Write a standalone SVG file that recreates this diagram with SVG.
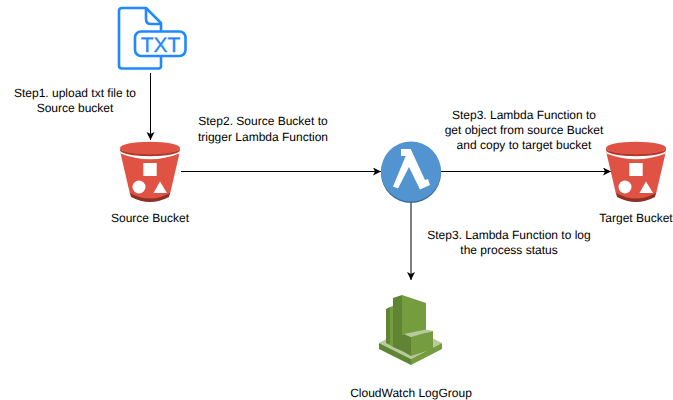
<svg xmlns="http://www.w3.org/2000/svg" width="673" height="400" viewBox="0 0 673 400">
<style>
text{font-family:"Liberation Sans",Arial,sans-serif;font-size:12px;fill:#000;text-anchor:middle;text-rendering:geometricPrecision}
.c{fill:none;stroke:#000;stroke-width:1}
.doc{fill:none;stroke:#2188ff;stroke-width:2.6;stroke-linejoin:round}
</style>
<defs>
<marker id="a" markerWidth="9" markerHeight="9" refX="8" refY="4" orient="auto" markerUnits="userSpaceOnUse"><path d="M0 0L8 4L0 8L2 4Z" fill="#000"/></marker>
<g id="bucket">
<path d="M-30 9L-20 52Q0 64 20 52L30 9Z" fill="#e05243"/>
<path d="M-20 51Q0 62 20 51L19 55Q0 65 -19 55Z" fill="#8c3123"/>
<path d="M-30 8Q0 20 30 8L29.500 11.500Q0 23 -29.500 11.500Z" fill="#fff"/>
<path d="M-30 6A30 6.300 0 0 0 30 6L30 8A30 6.300 0 0 1 -30 8Z" fill="#a93a2c"/>
<ellipse cx="0" cy="6" rx="30" ry="6.300" fill="#e05243"/>
<rect x="-6.700" y="21" width="13.400" height="13" fill="#fff"/>
<circle cx="-11" cy="45" r="6.500" fill="#fff"/>
<path d="M10 39.500L17 51H3.500Z" fill="#fff"/>
</g>
</defs>
<g id="connectors">
<path class="c" d="M150.500 73V140" marker-end="url(#a)"/>
<path class="c" d="M181 171.500H381" marker-end="url(#a)"/>
<path class="c" d="M441 171.500H611" marker-end="url(#a)"/>
<path class="c" d="M411 203V280" marker-end="url(#a)"/>
</g>
<g id="txt-file">
<path class="doc" d="M161 57V66Q161 68.500 158.500 68.500H122Q119 68.500 119 65.500V11Q119 8 122 8H146L161 23V31"/>
<path class="doc" d="M146 8V19Q146 24 151 24H161"/>
<rect class="doc" x="135" y="31.500" width="50.500" height="24.500" rx="6"/>
<text x="160.500" y="51.500" style="font-size:21px;fill:#2188ff;stroke:#2188ff;stroke-width:.3">TXT</text>
</g>
<g id="source-bucket">
<use href="#bucket" x="150" y="142"/>
<text x="150" y="222">Source Bucket</text>
</g>
<g id="lambda">
<circle cx="411" cy="173" r="30" fill="#3d6f9c"/>
<circle cx="411" cy="171.500" r="30" fill="#5294cf"/>
<path d="M401 149H410.700L425 180L428 179L430 185L420 189.500L409 167L398 188.500L393 186.500L405.700 156H401Z" fill="#fff"/>
</g>
<g id="target-bucket">
<use href="#bucket" x="636" y="142"/>
<text x="636" y="222">Target Bucket</text>
</g>
<g id="cloudwatch">
<path d="M379 343L411 359L442 343L426 335H394Z" fill="#b7ca9d"/>
<path d="M379 343L411 359V365L379 349Z" fill="#5f8534"/>
<path d="M442 343L411 359V365L442 349Z" fill="#759c3e"/>
<path d="M386 309L390 307V345L386 343Z" fill="#5f8534"/>
<path d="M390 307L393 306V347L390 345Z" fill="#759c3e"/>
<path d="M393 298L402 295V351L393 347Z" fill="#5f8534"/>
<path d="M402 295L426 303V335H402Z" fill="#759c3e"/>
<path d="M402 335H404V352L402 351Z" fill="#5f8534"/>
<path d="M404 334L411 337V356L404 352Z" fill="#5f8534"/>
<path d="M404 334L426 329.500L433 331L411 337Z" fill="#b7ca9d"/>
<path d="M411 337L433 331V349L411 356Z" fill="#759c3e"/>
</g>
<g id="labels">
<text x="75" y="97">Step1. upload txt file to</text>
<text x="75" y="112">Source bucket</text>
<text x="263" y="125">Step2. Source Bucket to</text>
<text x="263" y="141">trigger Lambda Function</text>
<text x="524" y="119">Step3. Lambda Function to</text>
<text x="524" y="134">get object from source Bucket</text>
<text x="524" y="149">and copy to target bucket</text>
<text x="509" y="239">Step3. Lambda Function to log</text>
<text x="509" y="254">the process status</text>
<text x="411" y="397">CloudWatch LogGroup</text>
</g>
</svg>
